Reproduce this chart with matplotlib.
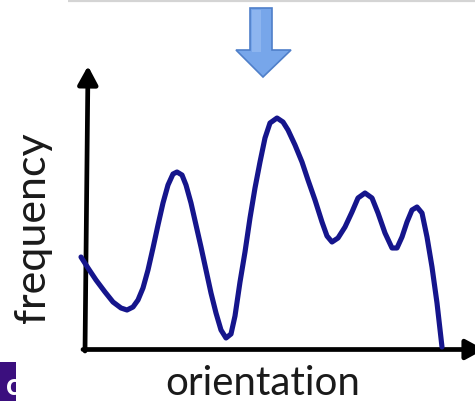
import matplotlib
matplotlib.use("Agg")
import matplotlib.pyplot as plt
from matplotlib.patches import Polygon, Rectangle

W, H = 475, 401

# curve: orientation vs frequency (arbitrary units)
orientation = [-7, 0, 8, 17, 25, 33, 39, 45, 50, 55, 60, 65, 70, 75, 80, 85, 89,
               94, 98, 103, 108, 113, 118, 123, 128, 133, 138, 143, 147, 152, 157,
               162, 167, 172, 177, 182, 189, 195, 200, 207, 214, 220, 227, 234,
               239, 244, 250, 257, 264, 270, 277, 284, 290, 297, 304, 309, 314,
               319, 324, 329, 334, 339, 344, 349, 354]
frequency = [91, 80, 68, 56, 46, 40, 38, 41, 48, 60, 78, 100, 123, 145, 163, 174,
             176, 173, 163, 145, 123, 101, 78, 55, 35, 18, 10, 14, 32, 66, 96,
             130, 160, 186, 210, 225, 230, 226, 218, 203, 186, 168, 148, 126,
             112, 106, 110, 121, 136, 150, 155, 150, 135, 115, 100, 100, 111,
             126, 138, 141, 135, 111, 81, 45, 1]

x_label = "orientation"
y_label = "frequency"

fig = plt.figure(figsize=(W / 100, H / 100), dpi=100)

# background layer in pixel coordinates for the decorations
bg = fig.add_axes([0, 0, 1, 1])
bg.set_xlim(0, W)
bg.set_ylim(H, 0)
bg.axis("off")

# thin grey line along the top edge
bg.plot([68, W], [0.8, 0.8], color="#d4d4d4", lw=1.6, solid_capstyle="butt")

# purple tab in bottom-left corner
bg.add_patch(Rectangle((0, 362), 16, 39, color="#3b0f7e", lw=0))
bg.text(13, 395, "c", color="white", fontsize=22, fontweight="bold",
        ha="center", va="baseline", family="Lato")
bg.add_patch(Rectangle((16, 362), 10, 39, color="white", lw=0, zorder=3))

# blue arrow pointing down at the main peak
arrow = Polygon([(250, 8), (272, 8), (272, 50), (291, 50), (263, 77),
                 (236, 50), (250, 50)], closed=True,
                facecolor="#77a6ea", edgecolor="#4f7fc9", lw=1.2)
bg.add_patch(arrow)
bg.add_patch(Polygon([(252, 10), (261, 10), (261, 52), (243, 52), (252, 52)],
                     closed=True, facecolor="#9cc0f3", edgecolor="none", alpha=0.6))

# axes with arrow heads
head = "-|>,head_length=1.1,head_width=0.6"
bg.annotate("", xy=(88, 66), xytext=(85, 351),
            arrowprops=dict(arrowstyle=head, color="black", lw=3.4,
                            shrinkA=0, shrinkB=0), annotation_clip=False)
bg.annotate("", xy=(484, 349.5), xytext=(83, 349.5),
            arrowprops=dict(arrowstyle=head, color="black", lw=3.4,
                            shrinkA=0, shrinkB=0), annotation_clip=False)

bg.text(263, 395, x_label, fontsize=29, color="#1a1a1a", ha="center",
        va="baseline", family="Lato")
bg.text(45, 228, y_label, fontsize=31, color="#1a1a1a", ha="center",
        va="baseline", rotation=90, rotation_mode="anchor", family="Lato")

# plot area, origin at the axis corner
ax = fig.add_axes([88 / W, (H - 348) / H, (W - 88) / W, (348 - 67) / H])
ax.set_xlim(0, W - 88)
ax.set_ylim(0, 348 - 67)
ax.axis("off")
ax.plot(orientation, frequency, color="#15158c", lw=3.7,
        solid_joinstyle="round", solid_capstyle="round", clip_on=False)

fig.savefig("out.png", dpi=100)
